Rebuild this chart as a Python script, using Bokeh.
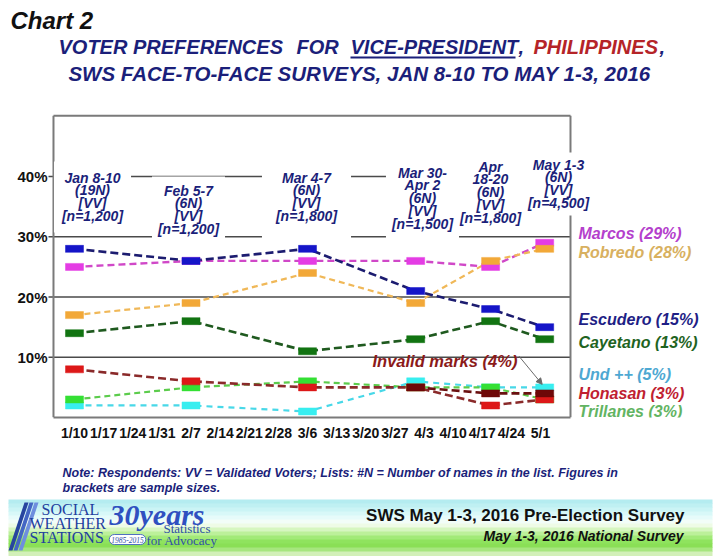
from bokeh.plotting import figure
from bokeh.layouts import column
from bokeh.models import Label, BoxAnnotation, PolyAnnotation, Arrow, NormalHead, FixedTicker
from bokeh.embed import file_html
from bokeh.resources import INLINE

# ---------------- data ----------------
survey_days = [10, 38, 66, 92, 110, 123]          # day-of-year 2016 of each survey
survey_labels = [
    "Jan 8-10\n(19N)\n[VV]\n[n=1,200]",
    "Feb 5-7\n(6N)\n[VV]\n[n=1,200]",
    "Mar 4-7\n(6N)\n[VV]\n[n=1,800]",
    "Mar 30-\nApr 2\n(6N)\n[VV]\n[n=1,500]",
    "Apr\n18-20\n(6N)\n[VV]\n[n=1,800]",
    "May 1-3\n(6N)\n[VV]\n[n=4,500]",
]
marcos = [25, 26, 26, 26, 25, 29]
robredo = [17, 19, 24, 19, 26, 28]
escudero = [28, 26, 28, 21, 18, 15]
cayetano = [14, 16, 11, 13, 16, 13]
und = [2, 2, 1, 6, 5, 5]
honasan = [8, 6, 5, 5, 2, 3]
trillanes = [3, 5, 6, 5, 5, 3]
invalid_days = [92, 110, 123]
invalid = [5, 4, 4]

tick_days = list(range(10, 123, 7))
tick_labels = ["1/10", "1/17", "1/24", "1/31", "2/7", "2/14", "2/21", "2/28", "3/6",
               "3/13", "3/20", "3/27", "4/3", "4/10", "4/17", "4/24", "5/1"]
y_ticks = [10, 20, 30, 40]
legend_names = ["Marcos (29%)", "Robredo (28%)", "Escudero (15%)", "Cayetano (13%)",
                "Und ++ (5%)", "Honasan (3%)", "Trillanes (3%)"]

# ---------------- constants ----------------
FONT = "Liberation Sans"
SERIF = "Liberation Serif"
NAVY = "#1b1f7a"
PXD = 4.161               # pixels per day
X0, X1 = 4.95, 129.2      # plot box in data units (days)
XT = 3.75                 # start of the little y tick marks
YTOP = 50.1               # plot box top (percent)
BOX = "#7a7a7a"


def lab(fig, x, y, text, size, color, align="left", baseline="middle",
        style="bold italic", font=FONT, units="data", **kw):
    lb = Label(x=x, y=y, x_units=units, y_units=units, text=text,
               text_font=font, text_font_size=f"{size}px", text_font_style=style,
               text_color=color, text_align=align, text_baseline=baseline, **kw)
    fig.add_layout(lb)
    return lb


def bare(h, y0, y1):
    f = figure(width=720, height=h, x_range=(0, 720), y_range=(y1, y0),
               output_backend="svg", toolbar_location=None, title=None,
               x_axis_location=None, y_axis_location=None, min_border=0)
    f.grid.visible = False
    f.outline_line_color = None
    f.background_fill_color = "white"
    f.border_fill_color = "white"
    return f


# ================= header (page y 0..110) =================
hd = bare(110, 0, 110)
TS = 20
lab(hd, 10, 20, "Chart 2", 24, "#111111")
lab(hd, 58, 46, "VOTER PREFERENCES", TS, NAVY)
lab(hd, 296, 46, "FOR", TS, NAVY)
lab(hd, 350, 46, "VICE-PRESIDENT", TS, NAVY)
lab(hd, 518, 46, ",", TS, NAVY)
lab(hd, 533, 46, "PHILIPPINES", TS, "#b52428")
lab(hd, 659, 46, ",", TS, NAVY)
hd.add_layout(BoxAnnotation(left=350, right=515, top=56, bottom=58,
                            fill_color=NAVY, fill_alpha=1, line_color=None))
lab(hd, 359, 73, "SWS FACE-TO-FACE SURVEYS, JAN 8-10 TO MAY 1-3, 2016", 20.5, NAVY,
    align="center")

# ================= main chart (page y 110..455) =================
FB = 417                  # frame bottom on the page; frame spans page x 0..720
xs0 = 10 - 74 / PXD
p = figure(width=720, height=345, x_range=(xs0, xs0 + 720 / PXD), y_range=(0, 50.47),
           output_backend="svg", toolbar_location=None, title=None,
           min_border_left=0, min_border_right=0, min_border_top=3, min_border_bottom=38)
p.background_fill_color = "white"
p.border_fill_color = "white"
p.outline_line_color = None
p.xgrid.visible = False
p.ygrid.visible = False

# y axis labels pushed into the picture (the frame starts at the page edge)
p.yaxis.ticker = FixedTicker(ticks=y_ticks)
p.yaxis.major_label_overrides = {t: f"{t}%" for t in y_ticks}
p.yaxis.axis_line_color = None
p.yaxis.minor_tick_line_color = None
p.yaxis.major_tick_line_color = None
p.yaxis.major_tick_out = 0
p.yaxis.major_tick_in = 0
p.yaxis.major_label_standoff = -47
p.yaxis.major_label_text_font = FONT
p.yaxis.major_label_text_font_style = "bold"
p.yaxis.major_label_text_font_size = "15px"
p.yaxis.major_label_text_color = "#111111"

p.xaxis.ticker = FixedTicker(ticks=tick_days)
p.xaxis.major_label_overrides = dict(zip(tick_days, tick_labels))
p.xaxis.bounds = (X0, X1)
p.xaxis.axis_line_color = BOX
p.xaxis.axis_line_width = 2
p.xaxis.minor_tick_line_color = None
p.xaxis.major_tick_line_color = None
p.xaxis.major_tick_out = 0
p.xaxis.major_label_standoff = 7
p.xaxis.major_label_text_font = FONT
p.xaxis.major_label_text_font_style = "bold"
p.xaxis.major_label_text_font_size = "14px"
p.xaxis.major_label_text_color = "#111111"

# grid lines (with small outer ticks) and the plot box
p.segment(x0=[XT] * len(y_ticks), y0=y_ticks, x1=[X1] * len(y_ticks), y1=y_ticks,
          line_color="#4a4a4a", line_width=1.5)
p.segment(x0=[X0, X0, X1], y0=[0, YTOP, 0], x1=[X0, X1, X1], y1=[YTOP, YTOP, YTOP],
          line_color=BOX, line_width=2)

series = [
    ("und", survey_days, und, "#48d8e8", "#38eef0", "6 5", 2.2),
    ("trillanes", survey_days, trillanes, "#5ccc4c", "#34e034", "6 4", 2.2),
    ("honasan", survey_days, honasan, "#8a2a2a", "#dd1818", "8 4", 2.6),
    ("invalid", invalid_days, invalid, "#6a1010", "#6e0808", "8 4", 2.6),
    ("cayetano", survey_days, cayetano, "#1f5a1f", "#127412", "8 4", 2.6),
    ("marcos", survey_days, marcos, "#d048c8", "#e43ce4", "7 4", 2.4),
    ("robredo", survey_days, robredo, "#f0b858", "#f2a838", "6 4", 2.2),
    ("escudero", survey_days, escudero, "#1c1c70", "#1515c8", "8 4", 2.6),
]
for name, xs, ys, lc, mc, dash, lw in series:
    p.line(xs, ys, line_color=lc, line_width=lw, line_dash=dash)
for name, xs, ys, lc, mc, dash, lw in series:
    p.rect(xs, ys, width=18, height=7, width_units="screen", height_units="screen",
           fill_color=mc, line_color=mc, line_width=0.5)


def plab(x, y, text, size, color, **kw):
    # page coordinates -> frame screen coordinates
    return lab(p, x, FB - y, text, size, color, units="screen", **kw)


lab_cx = [92, 188, 306, 422, 490, 558]
lab_top = [169, 182, 169, 164, 158, 156]
lab_pad = [8, 6, 14, 6, 4, 4]
for cx, top, txt, pad in zip(lab_cx, lab_top, survey_labels, lab_pad):
    plab(cx, top - pad, txt, 14, NAVY, align="center", baseline="top",
         background_fill_color="white", padding=pad, text_line_height=0.81)

leg_y = [233, 252, 319, 342, 374, 393, 411]
leg_c = ["#b440cc", "#d8b060", "#1f1f86", "#1f641f", "#4ea8d2", "#c02030", "#62b462"]
for name, yy, cc in zip(legend_names, leg_y, leg_c):
    plab(578, yy, name, 16, cc)

plab(372, 360, "Invalid marks (4%)", 16.5, "#8b1a1a")
p.add_layout(Arrow(end=NormalHead(size=6, fill_color="#6a6a6a", line_color="#6a6a6a"),
                   x_start=116.8, y_start=10.2, x_end=invalid_days[-1] - 0.6, y_end=5.5,
                   line_color="#6a6a6a", line_width=1))

# ================= footer (page y 455..556) =================
ft = bare(101, 455, 556)
lab(ft, 62, 472, "Note:  Respondents:  VV = Validated  Voters;  Lists:  #N = Number  of  names  in  the  list.  Figures  in",
    12.5, NAVY)
lab(ft, 62, 487, "brackets  are  sample  sizes.", 12.5, NAVY)

grad = ["#b4ecf0", "#bff0f2", "#cbf4f5", "#d8f8f8", "#e6fbfa", "#f2fdf8", "#eefbe6",
        "#d6f6c0", "#bcf09a", "#a2ea78", "#8fe35e", "#8adf56", "#a6e67e", "#d2f0b8"]
for i, c in enumerate(grad):
    y0 = 499 + i * 4
    ft.add_layout(BoxAnnotation(left=8, right=712, top=y0, bottom=y0 + 4.5,
                                fill_color=c, fill_alpha=1, line_color=None, level="underlay"))

for c, off in [("#27459f", 0), ("#4466c4", 5), ("#6e8ede", 10)]:
    ft.add_layout(PolyAnnotation(xs=[24 + off, 28 + off, 12 + off, 8 + off],
                                 ys=[502, 502, 550, 550],
                                 fill_color=c, fill_alpha=1, line_color=None))

lab(ft, 41, 509, "SOCIAL", 16, "#1f3f9f", style="normal", font=SERIF)
lab(ft, 29, 523, "WEATHER", 16, "#1f3f9f", style="normal", font=SERIF)
lab(ft, 29, 537, "STATIONS", 16, "#1f3f9f", style="normal", font=SERIF)
lab(ft, 109, 514, "30years", 30, "#2f50c0", style="bold italic", font=SERIF)
lab(ft, 163, 528, "Statistics", 13, "#2f50a8", style="normal", font=SERIF)
lab(ft, 146, 540, "for Advocacy", 13, "#2f50a8", style="normal", font=SERIF)
lab(ft, 127, 539, "1985-2015", 7.5, "#2f50a8", align="center", style="italic", font=SERIF,
    background_fill_color="white", border_line_color="#5070c0", padding=2, border_radius=6)

lab(ft, 684, 515, "SWS May 1-3, 2016 Pre-Election Survey", 17, "#111111", align="right", style="bold")
lab(ft, 683, 535, "May 1-3, 2016 National Survey", 14, "#111111", align="right")

layout = column(hd, p, ft, spacing=0)
open("out.html", "w").write(file_html(layout, INLINE))
